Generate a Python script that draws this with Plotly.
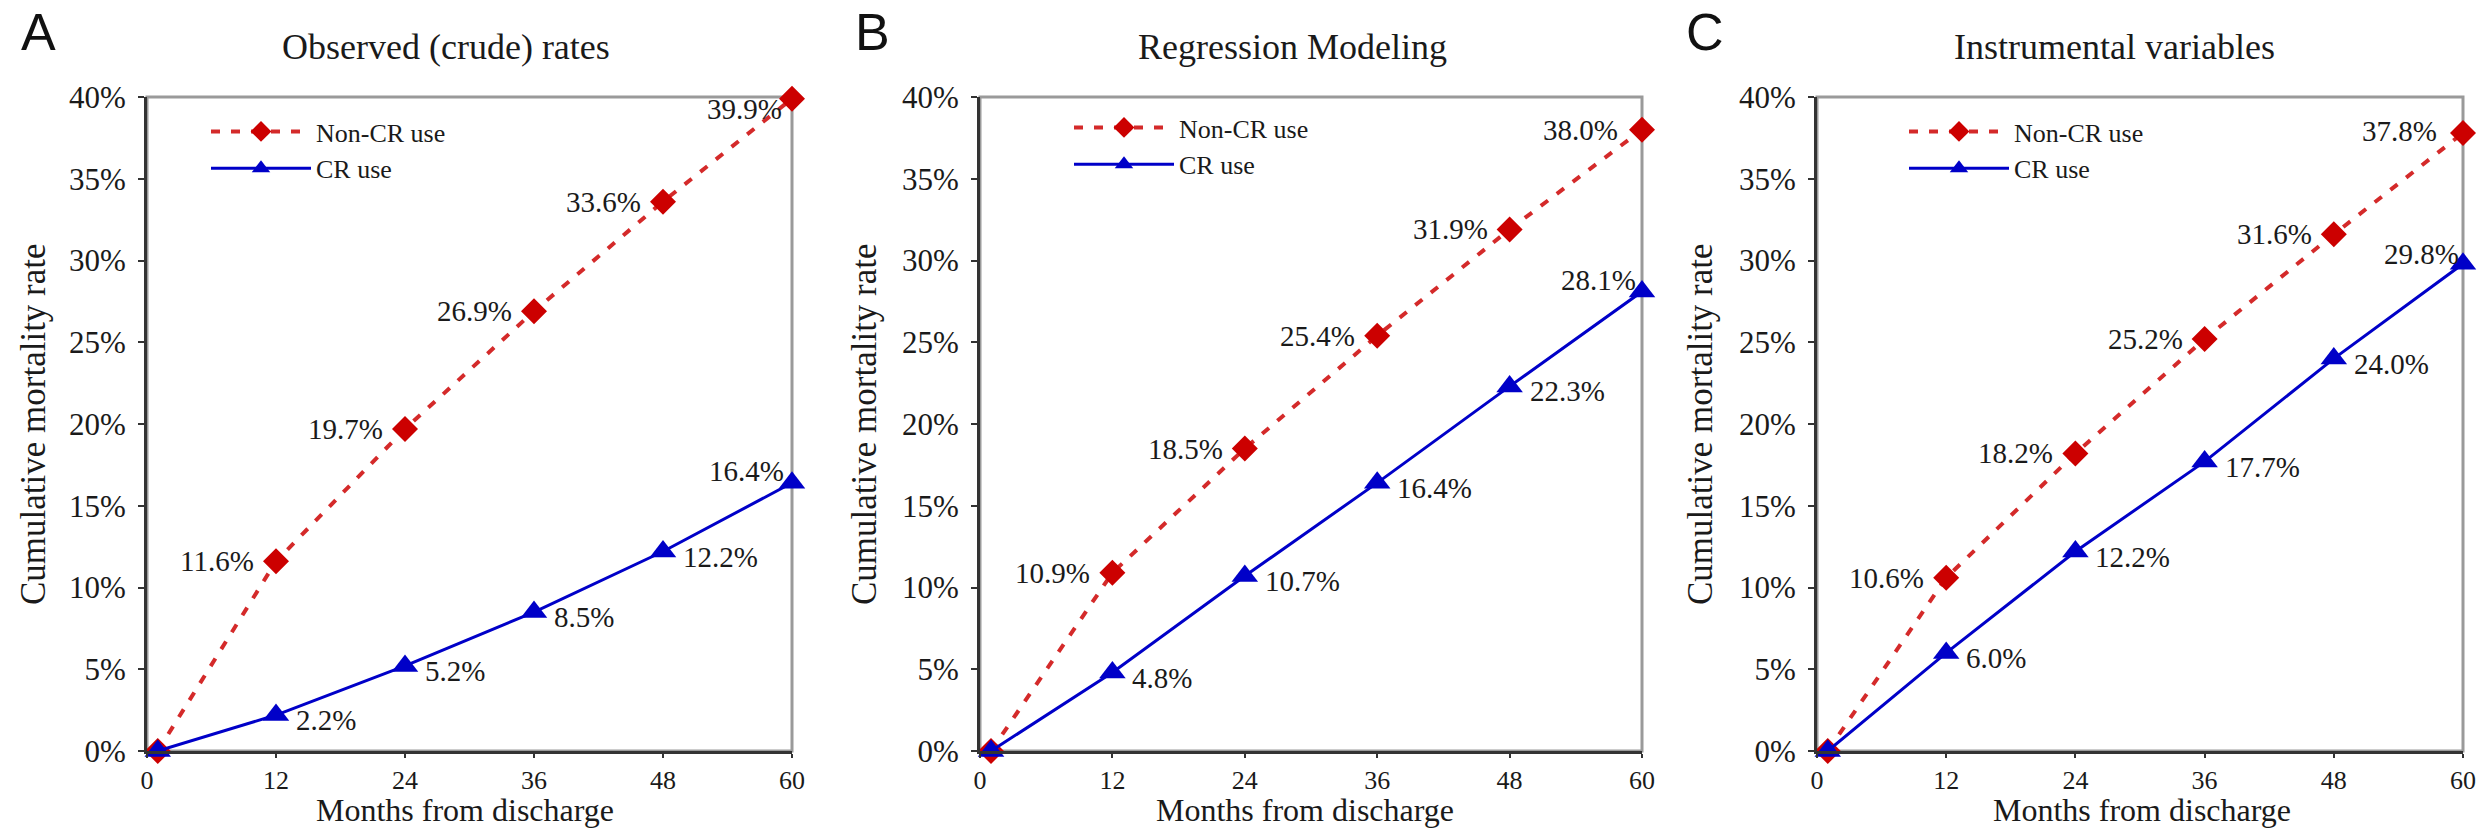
import plotly.graph_objects as go

# ---------------- data ----------------
months = [1, 12, 24, 36, 48, 60]
x_tick_vals = [0, 12, 24, 36, 48, 60]
y_tick_vals = [0.0, 0.05, 0.10, 0.15, 0.20, 0.25, 0.30, 0.35, 0.40]

panel_letters = ["A", "B", "C"]
panel_titles = ["Observed (crude) rates", "Regression Modeling", "Instrumental variables"]
series_names = ["Non-CR use", "CR use"]

non_cr_A = [0.0, 0.116, 0.197, 0.269, 0.336, 0.399]
cr_A = [0.0, 0.022, 0.052, 0.085, 0.122, 0.164]
non_cr_B = [0.0, 0.109, 0.185, 0.254, 0.319, 0.380]
cr_B = [0.0, 0.048, 0.107, 0.164, 0.223, 0.281]
non_cr_C = [0.0, 0.106, 0.182, 0.252, 0.316, 0.378]
cr_C = [0.0, 0.060, 0.122, 0.177, 0.240, 0.298]

non_cr_all = [non_cr_A, non_cr_B, non_cr_C]
cr_all = [cr_A, cr_B, cr_C]

# ---------------- layout / style ----------------
W, H = 2478, 828
FONT = "Liberation Serif"
TXT = "#1a1a1a"
RED_LINE = "#d42a2a"
RED_MARK = "#cc0000"
BLUE = "#0000c8"

x_domains = [[147 / W, 792 / W], [980 / W, 1642 / W], [1817 / W, 2463 / W]]
y_domain = [1 - 751 / H, 1 - 97 / H]

letter_x = [38 / W, 872 / W, 1705 / W]
title_x = [446 / W, 1292 / W, 2114 / W]
ytitle_x = [33 / W, 864 / W, 1700 / W]
xtitle_x = [465 / W, 1305 / W, 2142 / W]
legend_x = [206 / W, 1069 / W, 1904 / W]
legend_top = [108, 104, 108]

last_noncr_shift = [(-8, -10), (-22, 0), (-24, 2)]
last_cr_shift = [(-6, 12), (-4, 12), (-2, 10)]

fig = go.Figure()
annotations = []
shapes = []

for p in range(3):
    sfx = "" if p == 0 else str(p + 1)
    xa, ya = "x" + sfx, "y" + sfx
    leg = "legend" + sfx

    fig.add_trace(go.Scatter(
        x=months, y=non_cr_all[p], mode="lines+markers", name=series_names[0],
        xaxis=xa, yaxis=ya, legend=leg, cliponaxis=False,
        line=dict(color=RED_LINE, width=4, dash="9px,11px"),
        marker=dict(symbol="diamond", size=20, color=RED_MARK),
    ))
    fig.add_trace(go.Scatter(
        x=months, y=cr_all[p], mode="lines+markers", name=series_names[1],
        xaxis=xa, yaxis=ya, legend=leg, cliponaxis=False,
        line=dict(color=BLUE, width=3),
        marker=dict(symbol="triangle-up", size=23, color=BLUE),
    ))

    # data labels
    for i in range(1, len(months)):
        v = non_cr_all[p][i]
        if i == len(months) - 1:
            xs, ys = last_noncr_shift[p]
        else:
            xs, ys = -20, 0
        annotations.append(dict(
            x=months[i], y=v, xref=xa, yref=ya, text=f"{v * 100:.1f}%",
            showarrow=False, xanchor="right", yanchor="middle",
            xshift=xs, yshift=ys, font=dict(family=FONT, size=29, color=TXT)))
        v = cr_all[p][i]
        if i == len(months) - 1:
            xs, ys = last_cr_shift[p]
            xanc = "right"
        else:
            xs, ys = 18, -5
            xanc = "left"
        annotations.append(dict(
            x=months[i], y=v, xref=xa, yref=ya, text=f"{v * 100:.1f}%",
            showarrow=False, xanchor=xanc, yanchor="middle",
            xshift=xs, yshift=ys, font=dict(family=FONT, size=29, color=TXT)))

    # panel letter, title, axis titles
    annotations.append(dict(x=letter_x[p], y=1 - 32 / H, xref="paper", yref="paper",
                            xanchor="center", yanchor="middle",
                            text=panel_letters[p], showarrow=False,
                            font=dict(family="Liberation Sans", size=52, color="#111")))
    annotations.append(dict(x=title_x[p], y=1 - 47 / H, xref="paper", yref="paper",
                            xanchor="center", yanchor="middle",
                            text=panel_titles[p], showarrow=False,
                            font=dict(family=FONT, size=36, color=TXT)))
    annotations.append(dict(x=ytitle_x[p], y=1 - 424 / H, xref="paper", yref="paper",
                            xanchor="center", yanchor="middle",
                            text="Cumulative mortality rate", textangle=-90, showarrow=False,
                            font=dict(family=FONT, size=35, color=TXT)))
    annotations.append(dict(x=xtitle_x[p], y=1 - 809.5 / H, xref="paper", yref="paper",
                            xanchor="center", yanchor="middle",
                            text="Months from discharge", showarrow=False,
                            font=dict(family=FONT, size=32, color=TXT)))

    # grey frame (top/right)
    shapes.append(dict(type="rect", xref=xa + " domain", yref=ya + " domain",
                       x0=0, x1=1, y0=0, y1=1, layer="below",
                       line=dict(color="#9a9a9a", width=3)))

    axis_common = dict(showgrid=False, zeroline=False, showline=True, automargin=False,
                       linecolor="#333", linewidth=3, ticks="outside",
                       tickwidth=2, tickcolor="#333")
    fig.layout["xaxis" + sfx] = dict(domain=x_domains[p], anchor=ya, range=[0, 60],
                                     tickvals=x_tick_vals, ticklen=4,
                                     tickfont=dict(family=FONT, size=26, color=TXT),
                                     **axis_common)
    fig.layout["yaxis" + sfx] = dict(domain=y_domain, anchor=xa, range=[0, 0.40],
                                     tickvals=y_tick_vals, tickformat=".0%",
                                     ticklen=6, ticklabelstandoff=6,
                                     tickfont=dict(family=FONT, size=31, color=TXT),
                                     **axis_common)
    fig.layout[leg] = dict(x=legend_x[p], y=1 - legend_top[p] / H,
                           xanchor="left", yanchor="top",
                           xref="paper", yref="paper", bgcolor="rgba(0,0,0,0)",
                           itemwidth=100, tracegroupgap=0,
                           font=dict(family=FONT, size=26, color=TXT))

fig.update_layout(
    width=W, height=H, autosize=False,
    margin=dict(l=0, r=0, t=0, b=0, pad=0, autoexpand=False),
    paper_bgcolor="white", plot_bgcolor="white",
    annotations=annotations, shapes=shapes,
    showlegend=True,
)

fig.write_html(
    "out.html",
    config={"displayModeBar": False},
    post_script="document.body.style.margin='0';document.body.style.overflow='hidden';",
)
